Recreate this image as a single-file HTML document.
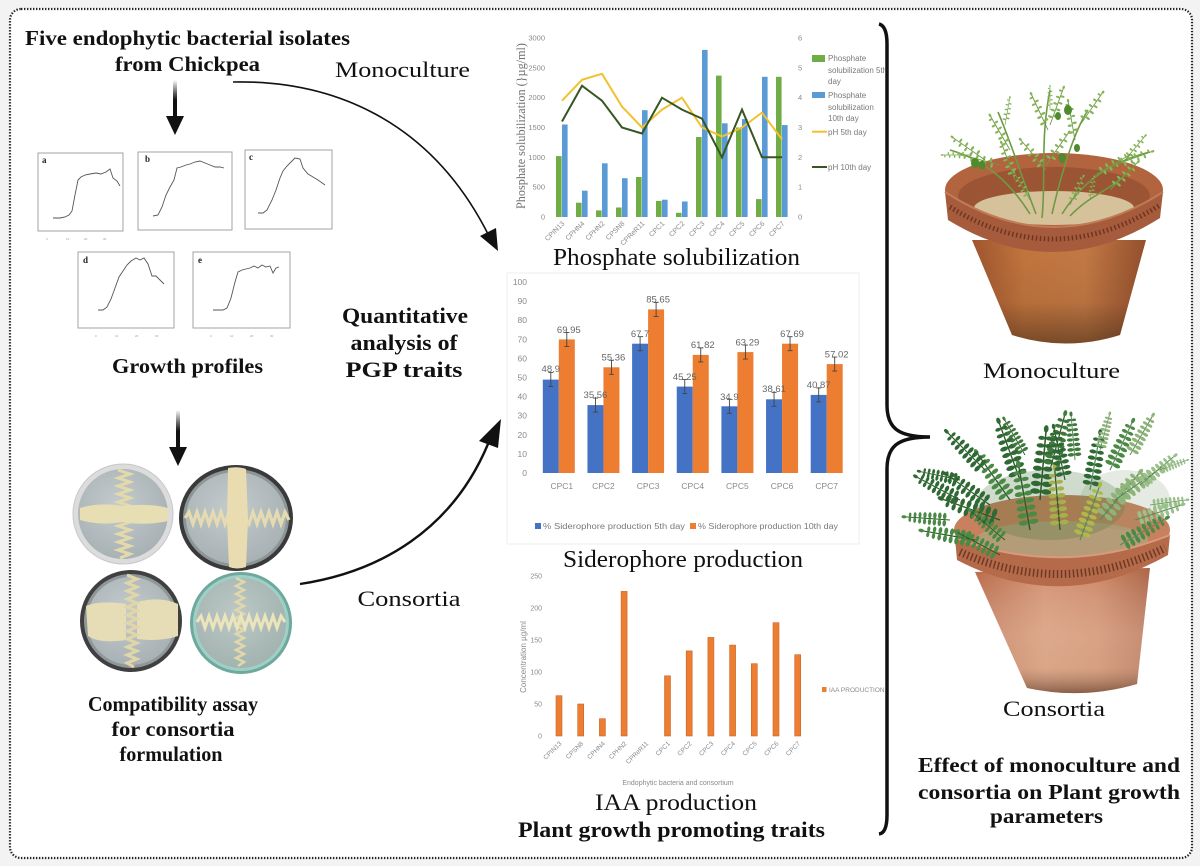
<!DOCTYPE html>
<html><head><meta charset="utf-8"><style>
html,body{margin:0;padding:0;background:#f3f3f3;}
body{width:1200px;height:866px;overflow:hidden;}
svg{display:block;}
.sf{font-family:"Liberation Serif",serif;}
.ss{font-family:"Liberation Sans",sans-serif;}
</style></head><body>
<svg width="1200" height="866" viewBox="0 0 1200 866" xmlns="http://www.w3.org/2000/svg">
<defs>
<clipPath id="fclip"><rect x="880" y="395" width="310" height="210"/></clipPath>
<linearGradient id="fade" x1="0" y1="0" x2="0" y2="1"><stop offset="0" stop-color="#000" stop-opacity="0"/><stop offset="0.5" stop-color="#111"/><stop offset="1" stop-color="#111"/></linearGradient>
<linearGradient id="potA" x1="0" y1="0" x2="1" y2="0"><stop offset="0" stop-color="#a0552f"/><stop offset="0.3" stop-color="#c4763e"/><stop offset="0.65" stop-color="#c57a45"/><stop offset="1" stop-color="#94502d"/></linearGradient>
<linearGradient id="potAv" x1="0" y1="0" x2="0" y2="1"><stop offset="0" stop-color="#3a2414" stop-opacity="0"/><stop offset="0.6" stop-color="#3a2414" stop-opacity="0.1"/><stop offset="1" stop-color="#3a2414" stop-opacity="0.55"/></linearGradient>
<linearGradient id="potB" x1="0" y1="0" x2="1" y2="0"><stop offset="0" stop-color="#b86a48"/><stop offset="0.4" stop-color="#d2906e"/><stop offset="0.7" stop-color="#cc8664"/><stop offset="1" stop-color="#ad6546"/></linearGradient>
<linearGradient id="potBv" x1="0" y1="0" x2="0" y2="1"><stop offset="0" stop-color="#fff" stop-opacity="0"/><stop offset="0.55" stop-color="#f0d6c4" stop-opacity="0.35"/><stop offset="0.8" stop-color="#e8cdb8" stop-opacity="0.35"/><stop offset="1" stop-color="#5a4030" stop-opacity="0.6"/></linearGradient>
<radialGradient id="dish" cx="0.45" cy="0.4" r="0.7"><stop offset="0" stop-color="#c3cbcd"/><stop offset="1" stop-color="#a4adb0"/></radialGradient>
<radialGradient id="dish4" cx="0.45" cy="0.4" r="0.7"><stop offset="0" stop-color="#bcc8c6"/><stop offset="1" stop-color="#9fb0ad"/></radialGradient>
<g id="fr">
<path d="M0,0 L0,-42" fill="none" stroke-width="0.9"/>
<g stroke="none">
<ellipse cx="-3.2" cy="-5" rx="3" ry="1.6"/><ellipse cx="3.2" cy="-5" rx="3" ry="1.6"/>
<ellipse cx="-3.2" cy="-9.5" rx="3" ry="1.6"/><ellipse cx="3.2" cy="-9.5" rx="3" ry="1.6"/>
<ellipse cx="-3.1" cy="-14" rx="2.9" ry="1.6"/><ellipse cx="3.1" cy="-14" rx="2.9" ry="1.6"/>
<ellipse cx="-3" cy="-18.5" rx="2.8" ry="1.5"/><ellipse cx="3" cy="-18.5" rx="2.8" ry="1.5"/>
<ellipse cx="-2.9" cy="-23" rx="2.7" ry="1.5"/><ellipse cx="2.9" cy="-23" rx="2.7" ry="1.5"/>
<ellipse cx="-2.7" cy="-27.5" rx="2.5" ry="1.4"/><ellipse cx="2.7" cy="-27.5" rx="2.5" ry="1.4"/>
<ellipse cx="-2.5" cy="-32" rx="2.3" ry="1.3"/><ellipse cx="2.5" cy="-32" rx="2.3" ry="1.3"/>
<ellipse cx="-2.2" cy="-36.5" rx="2" ry="1.2"/><ellipse cx="2.2" cy="-36.5" rx="2" ry="1.2"/>
<ellipse cx="0" cy="-42" rx="1.4" ry="2.2"/>
</g></g>
<g id="fr2">
<path d="M0,0 L0,-40" fill="none" stroke-width="0.9"/>
<g stroke="none">
<ellipse cx="-2.6" cy="-8" rx="2.3" ry="1.2"/><ellipse cx="2.6" cy="-10" rx="2.3" ry="1.2"/>
<ellipse cx="-2.6" cy="-15" rx="2.2" ry="1.2"/><ellipse cx="2.6" cy="-17" rx="2.2" ry="1.2"/>
<ellipse cx="-2.4" cy="-22" rx="2.1" ry="1.1"/><ellipse cx="2.4" cy="-24" rx="2.1" ry="1.1"/>
<ellipse cx="-2.2" cy="-29" rx="2" ry="1.1"/><ellipse cx="2.2" cy="-31" rx="2" ry="1.1"/>
<ellipse cx="-1.8" cy="-36" rx="1.7" ry="1"/><ellipse cx="0" cy="-40" rx="1.2" ry="1.8"/>
</g></g>
</defs>

<!-- frame -->
<rect x="10" y="9" width="1182" height="849" rx="11" fill="#fff" stroke="#222" stroke-width="2.2" stroke-dasharray="1.4 1.6"/>

<!-- LEFT COLUMN TEXT -->
<g class="sf" font-weight="bold" fill="#111" text-anchor="middle">
<text x="187.5" y="45" font-size="21" textLength="325" lengthAdjust="spacingAndGlyphs">Five endophytic bacterial isolates</text>
<text x="187.5" y="71" font-size="21" textLength="145" lengthAdjust="spacingAndGlyphs">from Chickpea</text>
<text x="187.5" y="373" font-size="21" textLength="151" lengthAdjust="spacingAndGlyphs">Growth profiles</text>
<text x="173" y="711" font-size="21" textLength="170" lengthAdjust="spacingAndGlyphs">Compatibility assay</text>
<text x="173" y="736" font-size="21" textLength="123" lengthAdjust="spacingAndGlyphs">for consortia</text>
<text x="171" y="761" font-size="21" textLength="103" lengthAdjust="spacingAndGlyphs">formulation</text>
<text x="405" y="323" font-size="22" textLength="126" lengthAdjust="spacingAndGlyphs">Quantitative</text>
<text x="404" y="350" font-size="22" textLength="107" lengthAdjust="spacingAndGlyphs">analysis of</text>
<text x="404" y="377" font-size="22" textLength="117" lengthAdjust="spacingAndGlyphs">PGP traits</text>
</g>
<g class="sf" fill="#111" text-anchor="middle">
<text x="402.5" y="77" font-size="22" textLength="135" lengthAdjust="spacingAndGlyphs">Monoculture</text>
<text x="409" y="606" font-size="22" textLength="103" lengthAdjust="spacingAndGlyphs">Consortia</text>
</g>

<!-- down arrows -->
<rect x="173" y="80" width="4" height="40" fill="url(#fade)"/>
<polygon points="166,116 184,116 175,135" fill="#111"/>
<rect x="176" y="410" width="4" height="42" fill="url(#fade)"/>
<polygon points="169,447 187,447 178,466" fill="#111"/>

<!-- curved arrows -->
<path d="M233,82 C330,80 430,118 489,236" fill="none" stroke="#111" stroke-width="1.6"/>
<polygon points="498,251 480,236 496,228" fill="#111"/>
<path d="M300,584 C380,572 452,530 488,444" fill="none" stroke="#111" stroke-width="2.4"/>
<polygon points="501,419 479,441 498,448" fill="#111"/>

<!-- growth profile mini charts -->
<g fill="none" stroke="#9a9a9a" stroke-width="0.9">
<rect x="38" y="153" width="85" height="78"/>
<rect x="138" y="152" width="94" height="78"/>
<rect x="245" y="150" width="87" height="79"/>
<rect x="78" y="252" width="96" height="76"/>
<rect x="193" y="252" width="97" height="76"/>
</g>
<g fill="none" stroke="#555" stroke-width="0.9">
<polyline transform="translate(38,153)" points="15,65 22,65 27,64 31,62 34,58 37,42 40,27 43,24 47,22 52,21 58,20 63,21 68,19 72,16 75,25 79,28 82,33"/>
<polyline transform="translate(140,152)" points="13,64 18,63 22,55 26,43 30,35 34,28 37,16 41,15 46,13 50,12 55,10 60,9 65,11 70,13 75,15 80,15 84,16"/>
<polyline transform="translate(245,150)" points="13,63 18,63 22,60 27,50 31,40 35,28 38,21 42,16 46,12 50,8 55,9 58,18 63,24 68,27 73,30 80,35"/>
<polyline transform="translate(78,252)" points="20,58 25,58 29,55 33,47 37,36 41,25 45,19 49,13 53,9 58,6 62,8 66,6 70,12 74,24 78,24 82,28 86,32"/>
<polyline transform="translate(193,252)" points="20,58 25,58 30,58 34,56 38,46 42,30 45,20 49,18 53,17 57,16 61,14 65,16 69,13 73,15 77,14 80,21 83,16 86,15"/>
</g>
<g class="sf" font-weight="bold" font-size="9" fill="#222">
<text x="42" y="163">a</text><text x="145" y="162">b</text><text x="249" y="160">c</text><text x="83" y="263">d</text><text x="198" y="263">e</text>
</g>
<g class="ss" font-size="3" fill="#999">
<text x="46" y="240">0</text><text x="66" y="240">10</text><text x="84" y="240">20</text><text x="103" y="240">30</text>
<text x="95" y="337">0</text><text x="115" y="337">10</text><text x="135" y="337">20</text><text x="155" y="337">30</text>
<text x="210" y="337">0</text><text x="230" y="337">10</text><text x="250" y="337">20</text><text x="270" y="337">30</text>
</g>

<!-- petri dishes -->
<g>
<circle cx="123" cy="514" r="50" fill="#dcdcdc" stroke="#c8c8c8" stroke-width="1"/>
<circle cx="123" cy="514" r="45" fill="url(#dish)"/>
<polyline points="118,470 130,474 118,478 130,482 118,486 130,490 118,494 130,498 118,502 130,506 118,510 130,514 118,518 130,522 118,526 130,530 118,534 130,538 118,542 130,546 118,550 130,554 120,558" fill="none" stroke="#e3d9ab" stroke-width="3"/>
<path d="M80,508 Q100,502 123,506 Q150,503 168,508 L168,521 Q145,526 123,522 Q100,526 80,520 Z" fill="#e8deb3"/>

<ellipse cx="236" cy="518" rx="57" ry="53" fill="#3a3a3a"/>
<ellipse cx="236" cy="518" rx="53" ry="49" fill="#8d9597"/>
<ellipse cx="236" cy="518" rx="50" ry="46" fill="url(#dish)"/>
<polyline points="185,518 189,512 193,524 197,512 201,524 205,512 209,524 213,512 217,524 221,512 225,524 229,512 245,518 249,524 253,512 257,524 261,512 265,524 269,512 273,524 277,512 281,524 285,512 289,520" fill="none" stroke="#e6dbae" stroke-width="3.2"/>
<path d="M228,468 Q238,466 246,469 L248,520 L246,567 Q237,570 229,567 L227,520 Z" fill="#e9dcb1"/>

<circle cx="131" cy="621" r="51" fill="#404040"/>
<circle cx="131" cy="621" r="47" fill="#8f9799"/>
<circle cx="131" cy="621" r="44" fill="url(#dish)"/>
<path d="M86,606 Q100,600 126,604 L126,640 Q100,644 88,636 Z" fill="#e6dcb5"/>
<path d="M137,602 Q160,596 178,604 L178,636 Q160,642 137,639 Z" fill="#e6dcb5"/>
<polyline points="127,575 137,579 127,583 137,587 127,591 137,595 127,599 137,603 127,607 137,611 127,615 137,619 127,623 137,627 127,631 137,635 127,639 137,643 127,647 137,651 127,655 137,659 127,663 134,667" fill="none" stroke="#e1d6a8" stroke-width="3"/>

<circle cx="241" cy="623" r="51" fill="#6fa89d"/>
<circle cx="241" cy="623" r="48" fill="#9fd0c6"/>
<circle cx="241" cy="623" r="45" fill="url(#dish4)"/>
<polyline points="236,578 244,582 236,586 244,590 236,594 244,598 236,602 244,606 236,610 244,614 236,618 244,622 236,626 244,630 236,634 244,638 236,642 244,646 236,650 244,654 236,658 244,662 238,666" fill="none" stroke="#e0d8ac" stroke-width="2.5"/>
<polyline points="197,622 201,616 205,628 209,616 213,628 217,616 221,628 225,616 229,628 233,616 237,628 241,616 245,628 249,616 253,628 257,616 261,628 265,616 269,628 273,616 277,628 281,616 285,622" fill="none" stroke="#ece4bb" stroke-width="3"/>
</g>

<!-- PHOSPHATE CHART -->
<g class="ss" font-size="7.5" fill="#8a8a8a" text-anchor="end">
<text x="545" y="40.5">3000</text><text x="545" y="70.3">2500</text><text x="545" y="100.2">2000</text><text x="545" y="130">1500</text><text x="545" y="159.8">1000</text><text x="545" y="189.7">500</text><text x="545" y="219.5">0</text>
</g>
<g class="ss" font-size="7.5" fill="#8a8a8a">
<text x="798" y="40.5">6</text><text x="798" y="70.3">5</text><text x="798" y="100.2">4</text><text x="798" y="130">3</text><text x="798" y="159.8">2</text><text x="798" y="189.7">1</text><text x="798" y="219.5">0</text>
</g>
<text class="sf" font-size="12.5" fill="#707070" text-anchor="middle" transform="translate(525,126) rotate(-90)" textLength="166" lengthAdjust="spacingAndGlyphs">Phosphate solubilization (}µg/ml)</text>
<g fill="#70ad47">
<rect x="556" y="156.1" width="5.6" height="60.9"/><rect x="576" y="202.7" width="5.6" height="14.3"/><rect x="596" y="210.4" width="5.6" height="6.6"/><rect x="616" y="207.5" width="5.6" height="9.5"/><rect x="636" y="177" width="5.6" height="40"/><rect x="656" y="200.9" width="5.6" height="16.1"/><rect x="676" y="212.8" width="5.6" height="4.2"/><rect x="696" y="137" width="5.6" height="80"/><rect x="716" y="75.6" width="5.6" height="141.4"/><rect x="736" y="127.5" width="5.6" height="89.5"/><rect x="756" y="199.1" width="5.6" height="17.9"/><rect x="776" y="76.8" width="5.6" height="140.2"/>
</g>
<g fill="#5b9bd5">
<rect x="562" y="124.5" width="5.6" height="92.5"/><rect x="582" y="190.7" width="5.6" height="26.3"/><rect x="602" y="163.3" width="5.6" height="53.7"/><rect x="622" y="178.2" width="5.6" height="38.8"/><rect x="642" y="110.2" width="5.6" height="106.8"/><rect x="662" y="199.7" width="5.6" height="17.3"/><rect x="682" y="201.5" width="5.6" height="15.5"/><rect x="702" y="49.9" width="5.6" height="167.1"/><rect x="722" y="123.3" width="5.6" height="93.7"/><rect x="742" y="119.1" width="5.6" height="97.9"/><rect x="762" y="76.8" width="5.6" height="140.2"/><rect x="782" y="125.1" width="5.6" height="91.9"/>
</g>
<polyline points="562,100.7 582,79.8 602,73.8 622,106.6 642,127.5 662,109.6 682,97.7 702,127.5 722,136.5 742,127.5 762,112.6 782,139.4" fill="none" stroke="#f2c12e" stroke-width="2"/>
<polyline points="562,121.5 582,85.7 602,100.7 622,127.5 642,133.5 662,97.7 682,109.6 702,118.6 722,157.3 742,109.6 762,157.3 782,157.3" fill="none" stroke="#375623" stroke-width="2"/>
<g class="ss" font-size="7" fill="#8a8a8a" text-anchor="end">
<text transform="translate(565,224) rotate(-45)">CPIN13</text><text transform="translate(585,224) rotate(-45)">CPHN4</text><text transform="translate(605,224) rotate(-45)">CPHN2</text><text transform="translate(625,224) rotate(-45)">CPSN8</text><text transform="translate(645,224) rotate(-45)">CPReR11</text><text transform="translate(665,224) rotate(-45)">CPC1</text><text transform="translate(685,224) rotate(-45)">CPC2</text><text transform="translate(705,224) rotate(-45)">CPC3</text><text transform="translate(725,224) rotate(-45)">CPC4</text><text transform="translate(745,224) rotate(-45)">CPC5</text><text transform="translate(765,224) rotate(-45)">CPC6</text><text transform="translate(785,224) rotate(-45)">CPC7</text>
</g>
<rect x="812" y="55" width="13" height="7" fill="#70ad47"/>
<rect x="812" y="92" width="13" height="6" fill="#5b9bd5"/>
<line x1="812" y1="131.7" x2="827" y2="131.7" stroke="#f2c12e" stroke-width="2"/>
<line x1="812" y1="167" x2="827" y2="167" stroke="#375623" stroke-width="2"/>
<g class="ss" font-size="8" fill="#7a7a7a">
<text x="828" y="61">Phosphate</text><text x="828" y="73">solubilization 5th</text><text x="828" y="84">day</text>
<text x="828" y="98">Phosphate</text><text x="828" y="110">solubilization</text><text x="828" y="121">10th day</text>
<text x="828" y="135">pH 5th day</text><text x="828" y="170">pH 10th day</text>
</g>
<text class="sf" x="676.5" y="265" font-size="24" fill="#111" text-anchor="middle" textLength="247" lengthAdjust="spacingAndGlyphs">Phosphate solubilization</text>

<!-- SIDEROPHORE CHART -->
<rect x="507" y="273" width="352" height="271" fill="none" stroke="#ececec" stroke-width="1"/>
<g class="ss" font-size="8.5" fill="#8a8a8a" text-anchor="end">
<text x="527" y="476">0</text><text x="527" y="456.9">10</text><text x="527" y="437.8">20</text><text x="527" y="418.7">30</text><text x="527" y="399.6">40</text><text x="527" y="380.5">50</text><text x="527" y="361.4">60</text><text x="527" y="342.3">70</text><text x="527" y="323.2">80</text><text x="527" y="304.1">90</text><text x="527" y="285">100</text>
</g>
<g fill="#4472c4">
<rect x="542.8" y="379.6" width="16" height="93.4"/><rect x="587.45" y="405.1" width="16" height="67.9"/><rect x="632.1" y="343.7" width="16" height="129.3"/><rect x="676.75" y="386.6" width="16" height="86.4"/><rect x="721.4" y="406.3" width="16" height="66.7"/><rect x="766.05" y="399.3" width="16" height="73.7"/><rect x="810.7" y="394.9" width="16" height="78.1"/>
</g>
<g fill="#ed7d31">
<rect x="558.8" y="339.4" width="16" height="133.6"/><rect x="603.45" y="367.3" width="16" height="105.7"/><rect x="648.1" y="309.4" width="16" height="163.6"/><rect x="692.75" y="354.9" width="16" height="118.1"/><rect x="737.4" y="352.1" width="16" height="120.9"/><rect x="782.05" y="343.7" width="16" height="129.3"/><rect x="826.7" y="364.1" width="16" height="108.9"/>
</g>
<g stroke="#444" stroke-width="0.9" fill="none">
<path d="M550.8,372.6V386.6M548.3,372.6H553.3M548.3,386.6H553.3"/>
<path d="M595.45,398.1V412.1M592.95,398.1H597.95M592.95,412.1H597.95"/>
<path d="M640.1,336.7V350.7M637.6,336.7H642.6M637.6,350.7H642.6"/>
<path d="M684.75,379.6V393.6M682.25,379.6H687.25M682.25,393.6H687.25"/>
<path d="M729.4,399.3V413.3M726.9,399.3H731.9M726.9,413.3H731.9"/>
<path d="M774.05,392.3V406.3M771.55,392.3H776.55M771.55,406.3H776.55"/>
<path d="M818.7,387.9V401.9M816.2,387.9H821.2M816.2,401.9H821.2"/>
<path d="M566.8,332.4V346.4M564.3,332.4H569.3M564.3,346.4H569.3"/>
<path d="M611.45,360.3V374.3M608.95,360.3H613.95M608.95,374.3H613.95"/>
<path d="M656.1,302.4V316.4M653.6,302.4H658.6M653.6,316.4H658.6"/>
<path d="M700.75,347.9V361.9M698.25,347.9H703.25M698.25,361.9H703.25"/>
<path d="M745.4,345.1V359.1M742.9,345.1H747.9M742.9,359.1H747.9"/>
<path d="M790.05,336.7V350.7M787.55,336.7H792.55M787.55,350.7H792.55"/>
<path d="M834.7,357.1V371.1M832.2,357.1H837.2M832.2,371.1H837.2"/>
</g>
<g class="ss" font-size="9.5" fill="#666" text-anchor="middle">
<text x="550.8" y="372">48.9</text><text x="595.45" y="398">35.56</text><text x="640.1" y="337">67.7</text><text x="684.75" y="380">45.25</text><text x="729.4" y="400">34.9</text><text x="774.05" y="392">38.61</text><text x="818.7" y="388">40.87</text>
<text x="568.8" y="333">69.95</text><text x="613.45" y="360.5">55.36</text><text x="658.1" y="302.5">85.65</text><text x="702.75" y="348">61.82</text><text x="747.4" y="345.5">63.29</text><text x="792.05" y="337">67.69</text><text x="836.7" y="357.5">57.02</text>
</g>
<g class="ss" font-size="8.5" fill="#8a8a8a" text-anchor="middle">
<text x="561.8" y="489">CPC1</text><text x="603.45" y="489">CPC2</text><text x="648.1" y="489">CPC3</text><text x="692.75" y="489">CPC4</text><text x="737.4" y="489">CPC5</text><text x="782.05" y="489">CPC6</text><text x="826.7" y="489">CPC7</text>
</g>
<rect x="535" y="523" width="6" height="6" fill="#4472c4"/>
<rect x="690" y="523" width="6" height="6" fill="#ed7d31"/>
<g class="ss" font-size="8" fill="#7a7a7a">
<text x="543" y="529" textLength="142" lengthAdjust="spacingAndGlyphs">% Siderophore production 5th day</text>
<text x="698" y="529" textLength="140" lengthAdjust="spacingAndGlyphs">% Siderophore production 10th day</text>
</g>
<text class="sf" x="683" y="567" font-size="24" fill="#111" text-anchor="middle" textLength="240" lengthAdjust="spacingAndGlyphs">Siderophore production</text>

<!-- IAA CHART -->
<g class="ss" font-size="7" fill="#8a8a8a" text-anchor="end">
<text x="542" y="738.5">0</text><text x="542" y="706.5">50</text><text x="542" y="674.5">100</text><text x="542" y="642.5">150</text><text x="542" y="610.5">200</text><text x="542" y="578.5">250</text>
</g>
<text class="ss" font-size="8" fill="#8a8a8a" text-anchor="middle" transform="translate(526,657) rotate(-90)">Concentration µg/ml</text>
<g fill="#ed7d31" stroke="#c7662a" stroke-width="0.6">
<rect x="556" y="695.7" width="6" height="40.3"/><rect x="577.7" y="704" width="6" height="32"/><rect x="599.4" y="718.7" width="6" height="17.3"/><rect x="621.1" y="591.4" width="6" height="144.6"/><rect x="664.5" y="675.8" width="6" height="60.2"/><rect x="686.2" y="650.9" width="6" height="85.1"/><rect x="707.9" y="637.4" width="6" height="98.6"/><rect x="729.6" y="645.1" width="6" height="90.9"/><rect x="751.3" y="663.7" width="6" height="72.3"/><rect x="773" y="622.7" width="6" height="113.3"/><rect x="794.7" y="654.7" width="6" height="81.3"/>
</g>
<g class="ss" font-size="6.5" fill="#8a8a8a" text-anchor="end">
<text transform="translate(562,744) rotate(-45)">CPIN13</text><text transform="translate(583.7,744) rotate(-45)">CPSN8</text><text transform="translate(605.4,744) rotate(-45)">CPHN4</text><text transform="translate(627.1,744) rotate(-45)">CPHN2</text><text transform="translate(648.8,744) rotate(-45)">CPReR11</text><text transform="translate(670.5,744) rotate(-45)">CPC1</text><text transform="translate(692.2,744) rotate(-45)">CPC2</text><text transform="translate(713.9,744) rotate(-45)">CPC3</text><text transform="translate(735.6,744) rotate(-45)">CPC4</text><text transform="translate(757.3,744) rotate(-45)">CPC5</text><text transform="translate(779,744) rotate(-45)">CPC6</text><text transform="translate(800.7,744) rotate(-45)">CPC7</text>
</g>
<rect x="822" y="687" width="4.5" height="5" fill="#ed7d31"/>
<text class="ss" x="829" y="692" font-size="6.5" fill="#8a8a8a">IAA PRODUCTION</text>
<text class="ss" x="678" y="785" font-size="7" fill="#8a8a8a" text-anchor="middle">Endophytic bacteria and consortium</text>
<text class="sf" x="676" y="810" font-size="23" fill="#111" text-anchor="middle" textLength="162" lengthAdjust="spacingAndGlyphs">IAA production</text>
<text class="sf" x="671.5" y="837" font-size="22" font-weight="bold" fill="#111" text-anchor="middle" textLength="307" lengthAdjust="spacingAndGlyphs">Plant growth  promoting traits</text>

<!-- BRACE -->
<path d="M879,24 Q887,26 887,44 L887,405 C887,428 898,437 930,437 C898,437 887,446 887,469 L887,815 Q887,833 879,834" fill="none" stroke="#111" stroke-width="3.5"/>

<!-- MONOCULTURE POT -->
<ellipse cx="1054" cy="190" rx="109" ry="37" fill="#b2643e"/>
<ellipse cx="1054" cy="196" rx="96" ry="29" fill="#9b5434"/>
<ellipse cx="1054" cy="208" rx="80" ry="17" fill="#d5c29a"/>
<path d="M972,240 L1146,240 L1120,335 Q1066,352 1012,335 Z" fill="url(#potA)"/>
<path d="M972,240 L1146,240 L1120,335 Q1066,352 1012,335 Z" fill="url(#potAv)"/>
<path d="M945,192 Q1054,262 1163,192 L1160,218 Q1054,285 948,220 Z" fill="#a65c3c"/>
<path d="M950,207 Q1054,272 1160,205" fill="none" stroke="#6e3522" stroke-width="5" stroke-dasharray="1.5 2.5"/>
<path d="M945,192 Q1054,262 1163,192" fill="none" stroke="#c07a55" stroke-width="2"/>
<!-- monoculture plant -->
<g fill="none" stroke="#6e9a44" stroke-width="1.6">
<path d="M1042,218 C1046,180 1040,140 1050,90"/>
<path d="M1030,214 C1010,182 985,160 950,150"/>
<path d="M1062,214 C1082,182 1110,162 1150,152"/>
<path d="M1052,214 C1062,170 1075,130 1088,110"/>
<path d="M1036,214 C1020,172 1010,140 998,112"/>
<path d="M1070,216 C1090,195 1110,190 1125,175"/>
</g>
<g fill="#86b557" stroke="#6e9a44">
<use href="#fr2" transform="translate(1048,130) rotate(-25)"/>
<use href="#fr2" transform="translate(1050,125) rotate(20)"/>
<use href="#fr2" transform="translate(1046,170) rotate(-40)"/>
<use href="#fr2" transform="translate(1046,165) rotate(35)"/>
<use href="#fr2" transform="translate(1050,110) rotate(0) scale(0.6)"/>
<use href="#fr2" transform="translate(1000,165) rotate(-75)"/>
<use href="#fr2" transform="translate(985,160) rotate(-55)"/>
<use href="#fr2" transform="translate(970,155) rotate(-90) scale(0.7)"/>
<use href="#fr2" transform="translate(1015,180) rotate(-20)"/>
<use href="#fr2" transform="translate(1010,150) rotate(-30)"/>
<use href="#fr2" transform="translate(1005,125) rotate(10) scale(0.7)"/>
<use href="#fr2" transform="translate(1080,125) rotate(35)"/>
<use href="#fr2" transform="translate(1075,140) rotate(-10)"/>
<use href="#fr2" transform="translate(1095,175) rotate(60)"/>
<use href="#fr2" transform="translate(1115,165) rotate(70)"/>
<use href="#fr2" transform="translate(1125,160) rotate(40) scale(0.8)"/>
<use href="#fr2" transform="translate(1110,190) rotate(45)"/>
<use href="#fr2" transform="translate(1030,200) rotate(-30) scale(0.8)"/>
<use href="#fr2" transform="translate(1070,205) rotate(25) scale(0.8)"/>
<use href="#fr2" transform="translate(1090,200) rotate(10) scale(0.6)"/>
</g>
<g fill="#4f8a2c">
<ellipse cx="975" cy="163" rx="4" ry="5"/><ellipse cx="982" cy="165" rx="3.5" ry="4.5"/>
<ellipse cx="1068" cy="110" rx="4" ry="5"/><ellipse cx="1058" cy="116" rx="3" ry="4"/>
<ellipse cx="1077" cy="148" rx="3" ry="4"/><ellipse cx="1062" cy="158" rx="3.5" ry="5"/>
</g>
<text class="sf" x="1051.5" y="378" font-size="22" fill="#111" text-anchor="middle" textLength="137" lengthAdjust="spacingAndGlyphs">Monoculture</text>

<!-- CONSORTIA POT -->
<ellipse cx="1062" cy="530" rx="108" ry="35" fill="#c8805e"/>
<ellipse cx="1062" cy="540" rx="86" ry="19" fill="#b59c78"/>
<path d="M975,572 L1150,568 L1137,684 Q1082,700 1027,688 Z" fill="url(#potB)"/>
<path d="M975,572 L1150,568 L1137,684 Q1082,700 1027,688 Z" fill="url(#potBv)"/>
<path d="M955,538 Q1062,578 1170,535 L1168,555 Q1062,615 957,560 Z" fill="#b56a4a"/>
<path d="M960,552 Q1062,598 1165,548" fill="none" stroke="#6e3a26" stroke-width="8" stroke-dasharray="1.5 2.5"/>
<path d="M955,538 Q1062,578 1170,535" fill="none" stroke="#d89a7a" stroke-width="2"/>
<!-- consortia foliage -->
<g clip-path="url(#fclip)">
<ellipse cx="1050" cy="505" rx="75" ry="35" fill="#3f6e35" opacity="0.25"/>
<ellipse cx="1125" cy="500" rx="45" ry="30" fill="#7d9d6c" opacity="0.2"/>
<g stroke="#2e5a2c">
<use href="#fr" fill="#2f6a34" transform="translate(1000,520) rotate(-70) scale(1.5)"/>
<use href="#fr" fill="#2f6a34" transform="translate(990,505) rotate(-55) scale(1.3)"/>
<use href="#fr" fill="#4a8a45" transform="translate(1010,500) rotate(-35) scale(1.4)"/>
<use href="#fr" fill="#4a8a45" transform="translate(975,540) rotate(-80) scale(1.3)"/>
<use href="#fr" fill="#2f6a34" transform="translate(1020,480) rotate(-20) scale(1.5)"/>
<use href="#fr" fill="#2f6a34" transform="translate(960,500) rotate(-62) scale(1.2)"/>
<use href="#fr" fill="#2f6a34" transform="translate(985,470) rotate(-45) scale(1.3)"/>
<use href="#fr" fill="#4a8a45" transform="translate(1000,555) rotate(-62) scale(1.2)"/>
<use href="#fr" fill="#4a8a45" transform="translate(1030,530) rotate(-10) scale(1.6)"/>
<use href="#fr" fill="#2f6a34" transform="translate(1040,500) rotate(5) scale(1.7)"/>
<use href="#fr" fill="#3f7a3c" transform="translate(1050,470) rotate(15) scale(1.4)"/>
<use href="#fr" fill="#a6b04a" transform="translate(1060,530) rotate(-5) scale(1.5)"/>
<use href="#fr" fill="#2f6a34" transform="translate(960,480) rotate(-78) scale(1.0)"/>
<use href="#fr" fill="#4a8a45" transform="translate(950,520) rotate(-86) scale(1.1)"/>
<use href="#fr" fill="#3f7a3c" transform="translate(1025,455) rotate(-30) scale(1.0)"/>
<use href="#fr" fill="#2f6a34" transform="translate(1065,480) rotate(-12) scale(1.3)"/>
<use href="#fr" fill="#4a8a45" transform="translate(1005,540) rotate(-50) scale(1.1)"/>
</g>
<g stroke="#5a8a5a">
<use href="#fr" fill="#8fb47a" transform="translate(1100,520) rotate(40) scale(1.5)"/>
<use href="#fr" fill="#8fb47a" transform="translate(1115,500) rotate(55) scale(1.35)"/>
<use href="#fr" fill="#4a8a45" transform="translate(1110,470) rotate(25) scale(1.3)"/>
<use href="#fr" fill="#9cc08a" transform="translate(1135,520) rotate(72) scale(1.2)"/>
<use href="#fr" fill="#9cc08a" transform="translate(1140,485) rotate(50) scale(1.1)"/>
<use href="#fr" fill="#2f6a34" transform="translate(1090,490) rotate(10) scale(1.4)"/>
<use href="#fr" fill="#8fb47a" transform="translate(1130,455) rotate(30) scale(1.1)"/>
<use href="#fr" fill="#9cc08a" transform="translate(1150,505) rotate(82) scale(0.9)"/>
<use href="#fr" fill="#b0b84a" transform="translate(1080,540) rotate(20) scale(1.4)"/>
<use href="#fr" fill="#4a8a45" transform="translate(1120,545) rotate(60) scale(1.3)"/>
<use href="#fr" fill="#9cc08a" transform="translate(1160,470) rotate(70) scale(0.7)"/>
<use href="#fr" fill="#3f7a3c" transform="translate(1075,460) rotate(-5) scale(1.1)"/>
<use href="#fr" fill="#8fb47a" transform="translate(1100,450) rotate(15) scale(0.9)"/>
</g>
</g>
<text class="sf" x="1054" y="716" font-size="22" fill="#111" text-anchor="middle" textLength="102" lengthAdjust="spacingAndGlyphs">Consortia</text>
<g class="sf" font-weight="bold" font-size="21" fill="#111" text-anchor="middle">
<text x="1049" y="772" textLength="262" lengthAdjust="spacingAndGlyphs">Effect of monoculture and</text>
<text x="1049" y="799" textLength="262" lengthAdjust="spacingAndGlyphs">consortia on Plant growth</text>
<text x="1046.5" y="823" textLength="113" lengthAdjust="spacingAndGlyphs">parameters</text>
</g>
</svg>
</body></html>
